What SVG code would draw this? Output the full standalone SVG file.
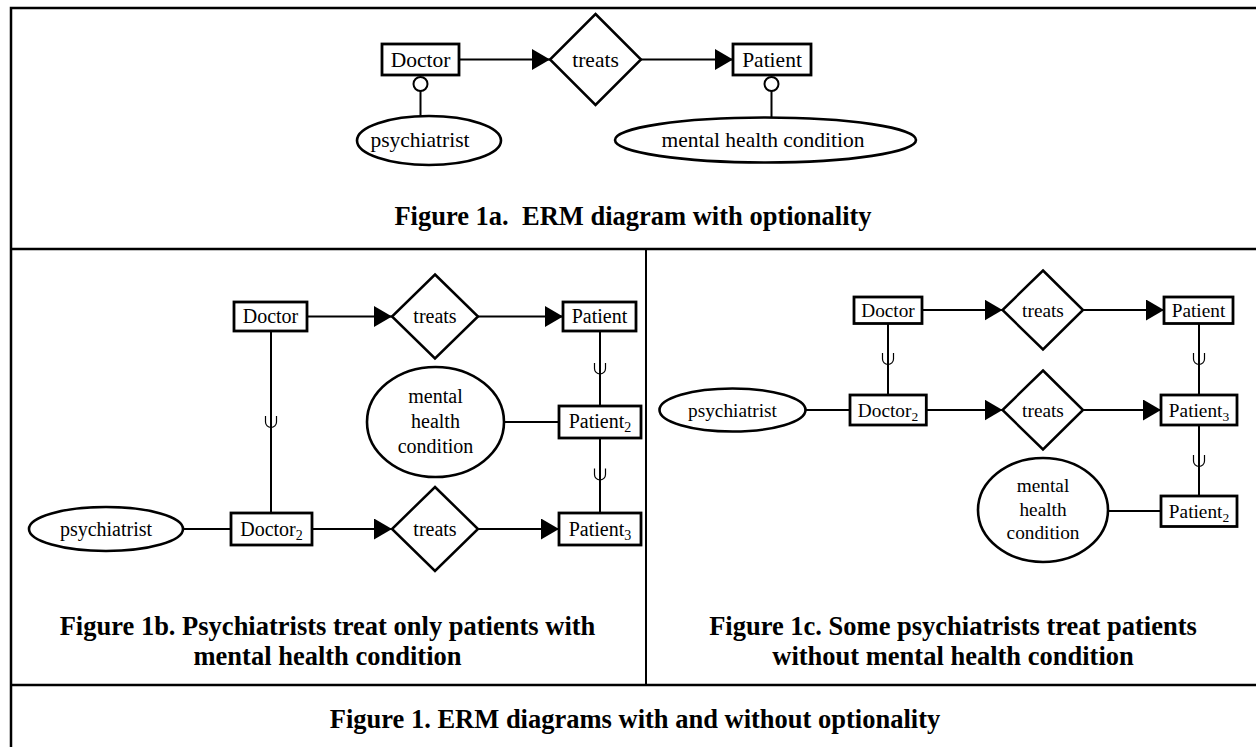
<svg xmlns="http://www.w3.org/2000/svg" width="1256" height="747" viewBox="0 0 1256 747">
<style>
.ent{fill:#fff;stroke:#000;stroke-width:2.8}
.rel{fill:#fff;stroke:#000;stroke-width:2.5}
.att{fill:#fff;stroke:#000;stroke-width:2.6}
.ln{fill:none;stroke:#000;stroke-width:2}
.sub{fill:none;stroke:#000;stroke-width:1.2}
.frame{fill:none;stroke:#000;stroke-width:2.5}
.t{font-family:"Liberation Serif","Times New Roman",serif;fill:#000;text-anchor:middle}
.a{font-size:21.5px}
.b{font-size:20px}
.c{font-size:19.3px}
.cap{font-family:"Liberation Serif","Times New Roman",serif;font-weight:bold;font-size:26.5px;fill:#000;text-anchor:middle}
</style>
<defs>
<marker id="arr" markerUnits="userSpaceOnUse" markerWidth="18" markerHeight="21" refX="18" refY="10.5" orient="auto">
<path d="M0,0 L18,10.5 L0,21 Z" fill="#000"/>
</marker>
</defs>
<rect width="1256" height="747" fill="#fff"/>
<g id="frame">
<path class="frame" d="M11,747 V8 H1256 M11,249 H1256 M11,685 H1256"/>
<line x1="646" y1="249" x2="646" y2="685" stroke="#000" stroke-width="2"/>
</g>
<g id="connectors">
<!-- 1a -->
<line class="ln" x1="459" y1="59.5" x2="550" y2="59.5" marker-end="url(#arr)"/>
<line class="ln" x1="641" y1="59.5" x2="733" y2="59.5" marker-end="url(#arr)"/>
<line class="ln" x1="420.5" y1="91" x2="420.5" y2="116"/>
<circle cx="420.5" cy="84" r="7" fill="#fff" stroke="#000" stroke-width="2"/>
<line class="ln" x1="771.5" y1="91" x2="771.5" y2="118"/>
<circle cx="771.5" cy="84" r="7" fill="#fff" stroke="#000" stroke-width="2"/>
<!-- 1b -->
<line class="ln" x1="307" y1="316.5" x2="392" y2="316.5" marker-end="url(#arr)"/>
<line class="ln" x1="478" y1="316.5" x2="563" y2="316.5" marker-end="url(#arr)"/>
<line class="ln" x1="312" y1="529" x2="392" y2="529" marker-end="url(#arr)"/>
<line class="ln" x1="478" y1="529" x2="559" y2="529" marker-end="url(#arr)"/>
<line class="ln" x1="271" y1="331" x2="271" y2="513"/>
<path class="sub" d="M265.5,416 V422 A5.5,5.5 0 0 0 276.5,422 V416"/>
<line class="ln" x1="600" y1="331" x2="600" y2="406"/>
<path class="sub" d="M594.5,363 V368.5 A5.5,5.5 0 0 0 605.5,368.5 V363"/>
<line class="ln" x1="600" y1="438" x2="600" y2="513"/>
<path class="sub" d="M594.5,468.5 V474.5 A5.5,5.5 0 0 0 605.5,474.5 V468.5"/>
<line class="ln" x1="504" y1="422" x2="559" y2="422"/>
<line class="ln" x1="183" y1="529" x2="231" y2="529"/>
<!-- 1c -->
<line class="ln" x1="921.7" y1="310" x2="1002.5" y2="310" marker-end="url(#arr)"/>
<line class="ln" x1="1083" y1="310" x2="1164" y2="310" marker-end="url(#arr)"/>
<line class="ln" x1="926.3" y1="410" x2="1002.5" y2="410" marker-end="url(#arr)"/>
<line class="ln" x1="1083" y1="410" x2="1161" y2="410" marker-end="url(#arr)"/>
<line class="ln" x1="888" y1="323" x2="888" y2="395"/>
<path class="sub" d="M882.5,353 V359 A5.5,5.5 0 0 0 893.5,359 V353"/>
<line class="ln" x1="1199" y1="323" x2="1199" y2="395"/>
<path class="sub" d="M1193.5,353 V359 A5.5,5.5 0 0 0 1204.5,359 V353"/>
<line class="ln" x1="1199" y1="425" x2="1199" y2="496"/>
<path class="sub" d="M1193.5,455 V461 A5.5,5.5 0 0 0 1204.5,461 V455"/>
<line class="ln" x1="805.5" y1="410" x2="850" y2="410"/>
<line class="ln" x1="1108" y1="511" x2="1161" y2="511"/>
</g>
<!-- Figure 1a nodes -->
<g id="a-doctor"><rect class="ent" x="382" y="44" width="77" height="31"/><text class="t a" x="420.5" y="66.5">Doctor</text></g>
<g id="a-treats"><polygon class="rel" points="595.5,14 641,59.5 595.5,105 550,59.5"/><text class="t a" x="595.5" y="66.5">treats</text></g>
<g id="a-patient"><rect class="ent" x="733" y="44" width="78" height="31"/><text class="t a" x="772" y="66.5">Patient</text></g>
<g id="a-psychiatrist"><ellipse class="att" cx="429" cy="140.5" rx="72" ry="24.5"/><text class="t a" x="420" y="147">psychiatrist</text></g>
<g id="a-mhc"><ellipse class="att" cx="765.5" cy="140" rx="150.5" ry="22.5"/><text class="t a" x="763" y="147">mental health condition</text></g>
<g id="cap-1a"><text class="cap" x="633" y="225" xml:space="preserve">Figure 1a.  ERM diagram with optionality</text></g>
<!-- Figure 1b nodes -->
<g id="b-doctor"><rect class="ent" x="234" y="302" width="73" height="29"/><text class="t b" x="270.5" y="323">Doctor</text></g>
<g id="b-treats1"><polygon class="rel" points="435,274.5 478,316.5 435,358.5 392,316.5"/><text class="t b" x="435" y="323">treats</text></g>
<g id="b-patient"><rect class="ent" x="563" y="302" width="73" height="29"/><text class="t b" x="599.5" y="323">Patient</text></g>
<g id="b-mhc"><ellipse class="att" cx="435.5" cy="422" rx="68.5" ry="55"/><text class="t b" x="435.5" y="403">mental</text><text class="t b" x="435.5" y="428">health</text><text class="t b" x="435.5" y="453">condition</text></g>
<g id="b-patient2"><rect class="ent" x="559" y="406" width="82" height="32"/><text class="t b" x="600" y="428">Patient<tspan font-size="14" dy="4">2</tspan></text></g>
<g id="b-psychiatrist"><ellipse class="att" cx="106" cy="529" rx="77" ry="22"/><text class="t b" x="106" y="535.5">psychiatrist</text></g>
<g id="b-doctor2"><rect class="ent" x="231" y="513" width="81" height="32"/><text class="t b" x="271.5" y="535.5">Doctor<tspan font-size="14" dy="4">2</tspan></text></g>
<g id="b-treats2"><polygon class="rel" points="435,487 478,529 435,571 392,529"/><text class="t b" x="435" y="535.5">treats</text></g>
<g id="b-patient3"><rect class="ent" x="559" y="513" width="82" height="32"/><text class="t b" x="600" y="535.5">Patient<tspan font-size="14" dy="4">3</tspan></text></g>
<g id="cap-1b"><text class="cap" x="327.5" y="635">Figure 1b. Psychiatrists treat only patients with</text><text class="cap" x="327.5" y="665">mental health condition</text></g>
<!-- Figure 1c nodes -->
<g id="c-doctor"><rect class="ent" x="854" y="297" width="68" height="26.5"/><text class="t c" x="888" y="316.5">Doctor</text></g>
<g id="c-treats1"><polygon class="rel" points="1043,270.5 1083,310 1043,349.5 1002.5,310"/><text class="t c" x="1043" y="316.5">treats</text></g>
<g id="c-patient"><rect class="ent" x="1164" y="297" width="69" height="26.5"/><text class="t c" x="1198.5" y="316.5">Patient</text></g>
<g id="c-psychiatrist"><ellipse class="att" cx="732.5" cy="410" rx="73" ry="21.5"/><text class="t c" x="732.5" y="416.5">psychiatrist</text></g>
<g id="c-doctor2"><rect class="ent" x="850" y="395" width="76.3" height="30"/><text class="t c" x="888" y="416.5">Doctor<tspan font-size="13.5" dy="4">2</tspan></text></g>
<g id="c-treats2"><polygon class="rel" points="1043,370.5 1083,410 1043,449.5 1002.5,410"/><text class="t c" x="1043" y="416.5">treats</text></g>
<g id="c-patient3"><rect class="ent" x="1161" y="395" width="76" height="30"/><text class="t c" x="1199" y="416.5">Patient<tspan font-size="13.5" dy="4">3</tspan></text></g>
<g id="c-mhc"><ellipse class="att" cx="1043" cy="510" rx="65" ry="52"/><text class="t c" x="1043" y="492">mental</text><text class="t c" x="1043" y="515.5">health</text><text class="t c" x="1043" y="539">condition</text></g>
<g id="c-patient2"><rect class="ent" x="1161" y="496" width="76" height="30.5"/><text class="t c" x="1199" y="517.5">Patient<tspan font-size="13.5" dy="4">2</tspan></text></g>
<g id="cap-1c"><text class="cap" x="953" y="635">Figure 1c. Some psychiatrists treat patients</text><text class="cap" x="953" y="665">without mental health condition</text></g>
<g id="cap-1"><text class="cap" x="635" y="728">Figure 1. ERM diagrams with and without optionality</text></g>
</svg>
